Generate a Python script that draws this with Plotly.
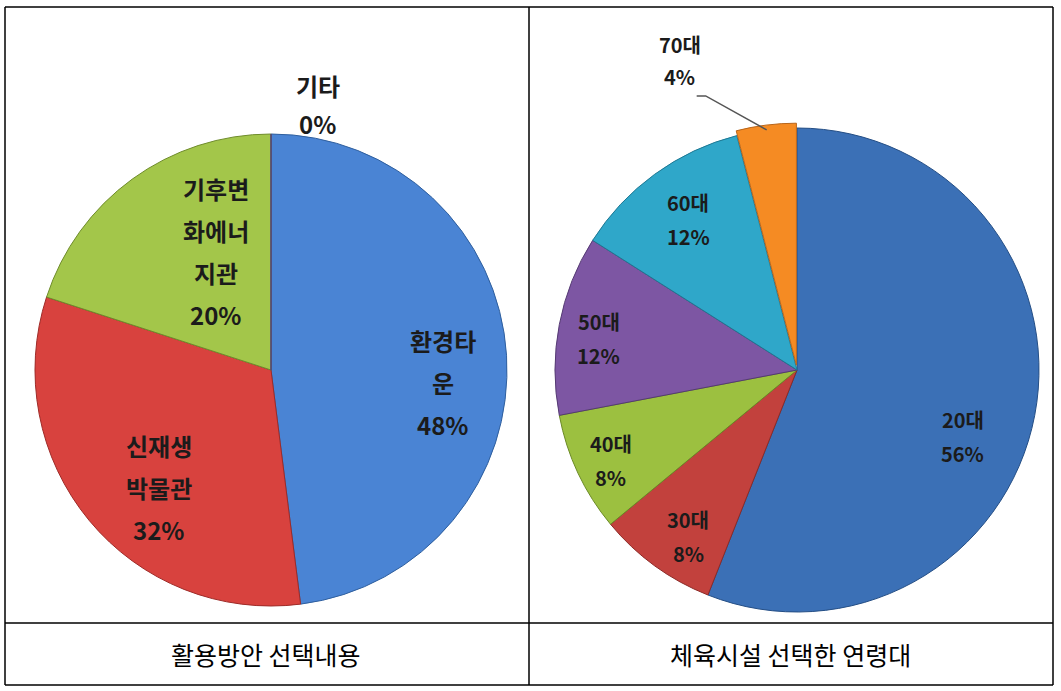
import math
import plotly.graph_objects as go

W, H = 1061, 691

# ---------------- data ----------------
left_labels = ["환경타운", "신재생박물관", "기후변화에너지관", "기타"]
left_values = [48, 32, 20, 0]
left_label_lines = [["환경타", "운"], ["신재생", "박물관"], ["기후변", "화에너", "지관"], ["기타"]]

right_labels = ["20대", "30대", "40대", "50대", "60대", "70대"]
right_values = [56, 8, 8, 12, 12, 4]

captions = ["활용방안 선택내용", "체육시설 선택한 연령대"]

# ---------------- styles / layout ----------------
left_colors = ["#4A84D4", "#D8423E", "#A3C64A", "#7E5FA8"]
left_edges = ["#2F5F9E", "#9E2B28", "#6F8C2C", "#55407A"]
right_colors = ["#3B70B6", "#C2413D", "#9CC040", "#7D56A3", "#2FA7C9", "#F58B23"]
right_edges = ["#244E85", "#8C2A27", "#6B8A26", "#553A73", "#1E7893", "#B8651A"]
right_pull = [0, 0, 0, 0, 0, 0.02]

L_c, L_r = (271, 370), 236
R_c, R_r = (797, 370), 242

# label placement: radial fraction + pixel nudge
left_lab_frac = [0.73, 0.69, 0.55, 1.0]
left_lab_nudge = [(0, 23), (13, 14), (21, -13), (47, -30)]
right_lab_frac = [0.74, 0.82, 0.855, 0.83, 0.77, 1.0]
right_lab_nudge = [(-10, 33), (8, 6), (1, 2), (-1, 6), (1, 0), (-87, -69)]

FONT = "Noto Sans CJK KR"
TXT = "#1b1b1b"


def domain(c, half):
    cx, cy = c
    return dict(x=[(cx - half) / W, (cx + half) / W],
                y=[1 - (cy + half) / H, 1 - (cy - half) / H])


def mid_angles(values):
    tot = sum(values)
    out, cum = [], 0
    for v in values:
        out.append((cum + v / 2) / tot * 2 * math.pi)
        cum += v
    return out


def polar(c, r, th, frac):
    return c[0] + r * frac * math.sin(th), c[1] - r * frac * math.cos(th)


fig = go.Figure()

fig.add_trace(go.Pie(
    labels=left_labels, values=left_values, sort=False, direction="clockwise",
    rotation=0, textinfo="none", showlegend=False,
    marker=dict(colors=left_colors, line=dict(color=left_edges, width=1)),
    domain=domain(L_c, L_r),
))

maxpull = max(right_pull)
fig.add_trace(go.Pie(
    labels=right_labels, values=right_values, sort=False, direction="clockwise",
    rotation=0, textinfo="none", showlegend=False, pull=right_pull,
    marker=dict(colors=right_colors, line=dict(color=right_edges, width=1)),
    domain=domain(R_c, R_r * (1 + maxpull)),
))

annotations = []
shapes = []


def add_lines(px, py, lines, size, spacing):
    n = len(lines)
    for i, t in enumerate(lines):
        y = py + (i - (n - 1) / 2) * spacing
        annotations.append(dict(
            x=px / W, y=1 - y / H, xref="paper", yref="paper",
            text=f"<b>{t}</b>", showarrow=False, xanchor="center", yanchor="middle",
            font=dict(family=FONT, size=size, color=TXT)))


# left labels
tot_l = sum(left_values)
for i, th in enumerate(mid_angles(left_values)):
    x, y = polar(L_c, L_r, th, left_lab_frac[i])
    x += left_lab_nudge[i][0]
    y += left_lab_nudge[i][1]
    pct = f"{round(left_values[i] / tot_l * 100)}%"
    add_lines(x, y, left_label_lines[i] + [pct], 24, 42 if i < 3 else 38)

# right labels
tot_r = sum(right_values)
for i, th in enumerate(mid_angles(right_values)):
    x, y = polar(R_c, R_r, th, right_lab_frac[i])
    nx, ny = right_lab_nudge[i]
    pct = f"{round(right_values[i] / tot_r * 100)}%"
    add_lines(x + nx, y + ny, [right_labels[i], pct], 20, 34 if i < 5 else 32)
    if right_pull[i] > 0:
        # leader line from slice edge
        ex, ey = x, y
        path = (f"M {ex / W} {1 - ey / H} L {(ex - 61) / W} {1 - (ey - 34) / H} "
                f"L {(ex - 70) / W} {1 - (ey - 34) / H}")
        shapes.append(dict(type="path", path=path, xref="paper", yref="paper",
                           line=dict(color="#555555", width=1.5)))


# table frame
def line(x0, y0, x1, y1):
    shapes.append(dict(type="line", xref="paper", yref="paper",
                       x0=x0 / W, y0=1 - y0 / H, x1=x1 / W, y1=1 - y1 / H,
                       line=dict(color="black", width=1.5)))


line(5, 7, 1053, 7)
line(5, 685, 1053, 685)
line(5, 7, 5, 685)
line(1053, 7, 1053, 685)
line(529, 7, 529, 685)
line(5, 623, 1053, 623)

for cx, t in zip([266, 790], captions):
    annotations.append(dict(x=cx / W, y=1 - 654 / H, xref="paper", yref="paper",
                            text=t, showarrow=False, xanchor="center", yanchor="middle",
                            font=dict(family=FONT, size=25, color="black")))

fig.update_layout(
    width=W, height=H, margin=dict(l=0, r=0, t=0, b=0),
    paper_bgcolor="white", plot_bgcolor="white",
    annotations=annotations, shapes=shapes,
)

fig.write_html("out.html")
